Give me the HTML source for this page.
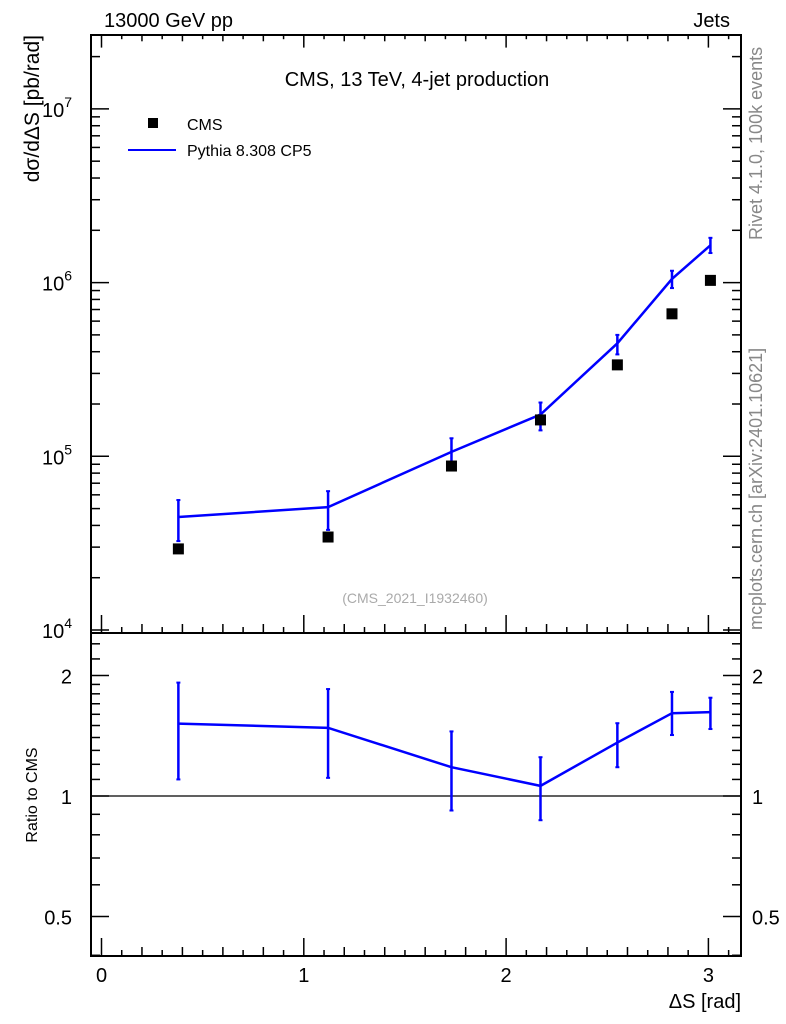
<!DOCTYPE html>
<html><head><meta charset="utf-8"><style>
body{margin:0;background:#fff}
svg{display:block;font-family:"Liberation Sans",sans-serif}
</style></head><body>
<svg id="c" width="786" height="1024" xmlns="http://www.w3.org/2000/svg">
<text x="104" y="27" font-size="20">13000 GeV pp</text>
<text x="730" y="27" font-size="20" text-anchor="end">Jets</text>
<text x="417" y="86" font-size="20" text-anchor="middle">CMS, 13 TeV, 4-jet production</text>
<text x="415" y="603" font-size="14" fill="#aaa" text-anchor="middle">(CMS_2021_I1932460)</text>
<text transform="translate(762,240) rotate(-90)" font-size="18" fill="#888">Rivet 4.1.0,  100k events</text>
<text transform="translate(762,630) rotate(-90)" font-size="18" fill="#888">mcplots.cern.ch [arXiv:2401.10621]</text>
<text transform="translate(39,35) rotate(-90)" font-size="21" text-anchor="end">dσ/dΔS [pb/rad]</text>
<text transform="translate(37,795) rotate(-90)" font-size="16" text-anchor="middle">Ratio to CMS</text>
<text x="741" y="1008" font-size="20" text-anchor="end">ΔS [rad]</text>
<g>
<rect x="148" y="118" width="10" height="10" fill="#000"/>
<text x="187" y="130" font-size="16">CMS</text>
<line x1="128" y1="150" x2="176" y2="150" stroke="#00f" stroke-width="2"/>
<text x="187" y="156" font-size="16">Pythia 8.308 CP5</text>
</g>
<g id="g"></g>
</svg>
<script>
const xs=[0.38,1.12,1.73,2.17,2.55,2.82,3.01];
const cms=[29300,34300,87900,162000,336000,661000,1030000];
const mc=[44700,51000,106000,174000,447000,1050000,1640000];
const mcHi=[56000,63000,127000,204000,500000,1170000,1810000];
const mcLo=[32500,37700,85800,141000,386000,930000,1480000];
const ratio=[1.516,1.48,1.18,1.06,1.36,1.61,1.62];
const rHi=[1.92,1.85,1.45,1.25,1.52,1.82,1.76];
const rLo=[1.10,1.11,0.92,0.87,1.18,1.42,1.47];
const xTicks=[0,1,2,3];
const yTicks=[4,5,6,7];
const rTicks=[0.5,1,2];

const L=91,R=741,T=35,M=633,B=956;
const X=v=>101.5+v*202.3;
const Y=v=>630-(Math.log10(v)-4)*173.7;
const RY=v=>796-Math.log2(v)*120.5;
const g=document.getElementById('g');
const NS="http://www.w3.org/2000/svg";
function mk(t,a,p){const e=document.createElementNS(NS,t);for(const k in a)e.setAttribute(k,a[k]);(p||g).appendChild(e);return e;}
function ln(x1,y1,x2,y2,c,w){return mk('line',{x1,y1,x2,y2,stroke:c||'#000','stroke-width':w||1.5});}

let f1=mk('rect',{x:L,y:T,width:R-L,height:M-T,fill:'none',stroke:'#000','stroke-width':2});


let f2=mk('rect',{x:L,y:M,width:R-L,height:B-M,fill:'none',stroke:'#000','stroke-width':2});



for(let i=0;i<=31;i++){const v=i/10;const x=X(v);if(x>R)break;
 const len=i%10==0?18:(i%2==0?9:6);
 ln(x,M,x,M-len);ln(x,B,x,B-len);ln(x,T,x,T+len*0.7);}
xTicks.forEach(v=>{const t=mk('text',{x:X(v),y:982,'font-size':20,'text-anchor':'middle'});t.textContent=v;
 
 });

for(let d=4;d<=7;d++)for(let m=1;m<10;m++){const v=m*Math.pow(10,d);const y=Y(v);if(y<T)break;
 const len=m==1?18:9;ln(L,y,L+len,y);ln(R,y,R-len,y);}
yTicks.forEach(d=>{const t=mk('text',{x:72,y:Y(Math.pow(10,d))+8,'font-size':20,'text-anchor':'end'});t.textContent='10';
 const s=mk('tspan',{dy:-10,'font-size':14},t);s.textContent=d;
 
 });

[0.4,0.5,0.6,0.7,0.8,0.9,1,1.1,1.2,1.3,1.4,1.5,1.6,1.7,1.8,1.9,2,2.2,2.4].forEach(v=>{const y=RY(v);if(y<M||y>B)return;
 const len=[0.5,1,2].includes(v)?18:9;ln(L,y,L+len,y);ln(R,y,R-len,y);});
rTicks.forEach(v=>{[[72,'end'],[752,'start']].forEach(([x,a])=>{const t=mk('text',{x,y:RY(v)+8,'font-size':20,'text-anchor':a});t.textContent=v;
 
 });});
ln(L,RY(1),R,RY(1),'#000',1.2);

let p=mk('polyline',{points:xs.map((x,i)=>X(x)+','+Y(mc[i])).join(' '),fill:'none',stroke:'#00f','stroke-width':2.5});


xs.forEach((x,i)=>{const e=ln(X(x),Y(mcHi[i]),X(x),Y(mcLo[i]),'#00f',2.5);
 
 
 ln(X(x)-2,Y(mcHi[i]),X(x)+2,Y(mcHi[i]),'#00f',2);ln(X(x)-2,Y(mcLo[i]),X(x)+2,Y(mcLo[i]),'#00f',2);});
xs.forEach((x,i)=>{const r=mk('rect',{x:X(x)-5.5,y:Y(cms[i])-5.5,width:11,height:11,fill:'#000'});
 
 });

let rp=mk('polyline',{points:xs.map((x,i)=>X(x)+','+RY(ratio[i])).join(' '),fill:'none',stroke:'#00f','stroke-width':2.5});


xs.forEach((x,i)=>{const e=ln(X(x),RY(rHi[i]),X(x),RY(rLo[i]),'#00f',2.5);
 
 
 ln(X(x)-2,RY(rHi[i]),X(x)+2,RY(rHi[i]),'#00f',2);ln(X(x)-2,RY(rLo[i]),X(x)+2,RY(rLo[i]),'#00f',2);});
</script>
</body></html>
